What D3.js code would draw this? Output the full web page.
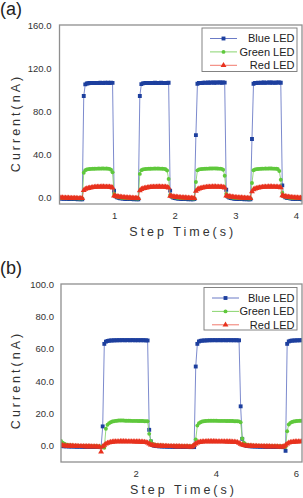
<!DOCTYPE html>
<html>
<head>
<meta charset="utf-8">
<script src="https://cdn.jsdelivr.net/npm/d3@7"></script>
<style>
  html, body { margin: 0; padding: 0; background: #fff; }
  svg { display: block; font-family: Arial, "Liberation Sans", sans-serif; }
</style>
</head>
<body>
<svg id="chart" width="303" height="498"></svg>
<script>

// ---- data ----

// panel (a): samples every 0.025 s starting at 0.1 s
const tStartA = 0.1, tStepA = 0.025;
const blueA = [
  -1.2,-1.4,-1.5,-1.6,-1.5,-1.7,-1.8,-1.7,-1.9,-1.8,-2.0,-1.9,-2.1,-2.0,-2.2,-2.1,
  94.0,104.8,
  105.6,105.8,106.0,105.9,106.1,106.0,106.2,106.1,106.0,106.3,106.2,106.1,106.4,106.2,106.3,106.1,106.4,106.2,
  5.8,0.6,
  -0.3,-0.8,-1.1,-1.3,-1.5,-1.6,-1.8,-1.7,-1.9,-2.0,-1.9,-2.1,-2.0,-2.2,-2.1,
  94.0,105.0,
  105.7,105.9,106.0,106.1,105.9,106.2,106.0,106.1,106.3,106.0,106.2,106.1,106.3,106.2,106.0,106.2,106.1,106.3,
  6.0,0.4,
  -0.4,-0.9,-1.2,-1.4,-1.5,-1.7,-1.8,-1.7,-1.9,-2.0,-2.1,-1.9,-2.1,-2.2,-2.0,
  57.6,105.4,
  106.0,106.2,106.1,106.3,106.4,106.2,106.5,106.3,106.4,106.6,106.3,106.5,106.4,106.6,106.5,106.3,106.6,106.4,
  6.8,0.5,
  -0.4,-0.9,-1.2,-1.4,-1.6,-1.7,-1.8,-1.9,-1.8,-2.0,-2.1,-2.0,-2.2,-2.1,-2.2,
  54.0,105.3,
  106.0,106.1,106.3,106.2,106.4,106.3,106.5,106.2,106.4,106.6,106.3,106.5,106.4,106.2,106.5,106.4,106.6,106.3,
  10.8,1.0,
  -0.2,-0.7,-1.0,-1.3,-1.4,-1.6,-1.7,-1.8,-1.9,-1.8,-2.0,-2.1
];
const greenA = [
  -0.6,-0.8,-0.9,-1.0,-0.9,-1.1,-1.0,-1.2,-1.1,-1.2,-1.3,-1.2,-1.3,-1.4,-1.3,-1.4,
  22.5,25.0,
  25.6,25.9,26.1,26.2,26.3,26.3,26.4,26.4,26.5,26.4,26.5,26.5,26.4,26.5,26.3,26.2,25.4,23.0,
  3.0,0.8,
  0.2,-0.2,-0.5,-0.7,-0.8,-0.9,-1.0,-1.1,-1.1,-1.2,-1.2,-1.3,-1.3,-1.4,-1.4,
  21.5,25.0,
  25.6,25.9,26.0,26.2,26.3,26.3,26.4,26.4,26.5,26.4,26.5,26.4,26.4,26.3,26.2,25.8,24.6,16.7,
  2.0,0.5,
  0.0,-0.3,-0.5,-0.7,-0.8,-0.9,-1.0,-1.1,-1.1,-1.2,-1.2,-1.3,-1.3,-1.4,-1.4,
  14.0,24.8,
  25.6,25.9,26.1,26.2,26.3,26.4,26.4,26.5,26.5,26.5,26.6,26.5,26.5,26.4,26.4,26.2,25.4,19.8,
  3.0,0.6,
  0.1,-0.3,-0.5,-0.7,-0.8,-0.9,-1.0,-1.1,-1.1,-1.2,-1.2,-1.3,-1.3,-1.4,-1.4,
  13.0,24.9,
  25.6,25.9,26.1,26.2,26.3,26.4,26.4,26.5,26.4,26.5,26.5,26.5,26.4,26.4,26.3,26.0,24.2,16.0,
  4.0,0.8,
  0.2,-0.2,-0.5,-0.7,-0.8,-0.9,-1.0,-1.1,-1.1,-1.2,-1.2,-1.3
];
const redA = [
  -0.5,-0.6,-0.7,-0.8,-0.8,-0.9,-0.9,-1.0,-1.0,-1.1,-1.1,-1.1,-1.2,-1.2,-1.2,-1.3,
  6.2,7.3,
  7.8,8.2,8.5,8.8,9.0,9.2,9.3,9.4,9.5,9.5,9.6,9.6,9.5,9.5,9.4,9.3,9.1,8.6,
  1.2,0.8,
  0.5,0.3,0.1,-0.1,-0.3,-0.4,-0.5,-0.6,-0.7,-0.8,-0.9,-1.0,-1.0,-1.1,-1.2,
  6.0,7.2,
  7.8,8.2,8.5,8.8,9.0,9.2,9.3,9.4,9.5,9.5,9.6,9.6,9.5,9.5,9.4,9.3,9.1,8.5,
  1.0,0.7,
  0.4,0.2,0.0,-0.2,-0.3,-0.4,-0.5,-0.6,-0.7,-0.8,-0.9,-1.0,-1.0,-1.1,-1.2,
  5.5,7.0,
  7.7,8.1,8.5,8.8,9.0,9.2,9.3,9.4,9.5,9.6,9.6,9.6,9.5,9.5,9.4,9.3,9.1,8.6,
  1.2,0.8,
  0.5,0.3,0.1,-0.1,-0.3,-0.4,-0.5,-0.6,-0.7,-0.8,-0.9,-1.0,-1.0,-1.1,-1.2,
  5.0,7.0,
  7.7,8.1,8.5,8.8,9.0,9.2,9.3,9.4,9.5,9.6,9.6,9.6,9.5,9.5,9.4,9.3,9.1,8.7,
  1.4,0.9,
  0.5,0.3,0.1,-0.1,-0.3,-0.4,-0.5,-0.6,-0.7,-0.8,-0.9,-1.0
];

// panel (b): samples every 0.04 s starting at 0.14 s
const tStartB = 0.14, tStepB = 0.04;
const blueB = [
  -0.2,-0.2,-0.3,-0.3,-0.3,-0.4,-0.4,-0.4,-0.4,-0.5,-0.5,-0.5,-0.5,-0.5,-0.6,-0.6,-0.6,-0.6,-0.6,-0.7,-0.7,-0.7,-0.7,-0.7,-0.8,-0.8,
  12.0,63.0,64.4,
  64.8,65.0,65.1,65.1,65.2,65.2,65.2,65.3,65.2,65.3,65.3,65.2,65.3,65.3,65.2,65.3,65.3,65.2,65.3,65.2,65.3,65.2,65.3,65.2,65.2,65.1,
  9.9,2.7,
  0.5,0.1,-0.1,-0.2,-0.3,-0.3,-0.4,-0.4,-0.4,-0.5,-0.5,-0.5,-0.5,-0.6,-0.6,-0.6,-0.6,-0.6,-0.7,-0.7,-0.7,-0.7,-0.7,-0.8,-0.8,-0.8,-0.8,
  49.0,63.0,64.5,
  64.9,65.0,65.1,65.1,65.2,65.2,65.3,65.2,65.3,65.3,65.2,65.3,65.3,65.2,65.3,65.3,65.2,65.3,65.3,65.2,65.3,65.2,65.3,65.2,65.2,
  24.4,4.3,
  0.8,0.2,-0.1,-0.2,-0.3,-0.3,-0.4,-0.4,-0.4,-0.5,-0.5,-0.5,-0.5,-0.6,-0.6,-0.6,-0.6,-0.6,-0.7,-0.7,-0.7,-0.7,-0.7,-0.8,-0.8,-0.8,
  -3.1,63.0,
  64.5,64.9,65.0,65.1,65.1,65.2,65.2,65.2,65.3
];
const greenB = [
  3.0,2.0,1.3,0.9,0.6,0.4,0.3,0.2,0.1,0.1,0.0,0.0,-0.1,-0.1,-0.1,-0.2,-0.2,-0.2,-0.2,-0.3,-0.3,-0.3,-0.3,-0.3,-0.4,-0.4,
  -0.6,-1.2,10.5,
  13.0,14.0,14.6,15.0,15.2,15.4,15.5,15.6,15.6,15.6,15.6,15.5,15.5,15.5,15.5,15.4,15.4,15.4,15.4,15.3,15.3,15.3,15.3,15.2,15.2,15.2,
  7.4,3.0,
  1.3,0.8,0.5,0.4,0.3,0.2,0.2,0.1,0.1,0.0,0.0,0.0,-0.1,-0.1,-0.1,-0.1,-0.2,-0.2,-0.2,-0.2,-0.2,-0.3,-0.3,-0.3,-0.3,-0.3,0.5,
  4.0,12.5,14.0,
  14.6,15.0,15.2,15.3,15.4,15.5,15.5,15.5,15.5,15.5,15.5,15.4,15.4,15.4,15.4,15.4,15.3,15.3,15.3,15.3,15.3,15.2,15.2,15.2,15.1,
  14.6,4.5,
  2.0,1.0,0.6,0.4,0.3,0.2,0.1,0.1,0.0,0.0,0.0,-0.1,-0.1,-0.1,-0.1,-0.2,-0.2,-0.2,-0.2,-0.2,-0.3,-0.3,-0.3,-0.3,-0.3,-0.4,
  -0.8,9.0,
  13.2,14.2,14.7,15.0,15.2,15.3,15.4,15.5,15.5
];
const redB = [
  0.3,0.2,0.1,0.0,0.0,-0.1,-0.1,-0.1,-0.2,-0.2,-0.2,-0.3,-0.3,-0.3,-0.3,-0.4,-0.4,-0.4,-0.4,-0.5,-0.5,-0.5,-0.5,-0.6,-0.6,
  -3.7,
  -0.5,0.4,1.2,
  1.7,2.0,2.2,2.4,2.5,2.6,2.6,2.6,2.7,2.7,2.7,2.7,2.6,2.6,2.6,2.6,2.6,2.5,2.5,2.5,2.5,2.4,2.4,2.3,2.1,1.8,
  1.2,0.7,
  0.4,0.2,0.1,0.0,0.0,-0.1,-0.1,-0.2,-0.2,-0.2,-0.3,-0.3,-0.3,-0.3,-0.4,-0.4,-0.4,-0.4,-0.5,-0.5,-0.5,-0.5,-0.5,-0.6,-0.6,-0.4,0.5,
  1.3,1.8,2.2,
  2.4,2.5,2.6,2.6,2.7,2.7,2.7,2.7,2.7,2.7,2.6,2.6,2.6,2.6,2.6,2.6,2.5,2.5,2.5,2.5,2.4,2.4,2.3,2.1,1.7,
  1.1,0.6,
  0.3,0.1,0.0,0.0,-0.1,-0.1,-0.2,-0.2,-0.2,-0.3,-0.3,-0.3,-0.3,-0.4,-0.4,-0.4,-0.4,-0.5,-0.5,-0.5,-0.5,-0.5,-0.6,-0.6,-0.6,-0.4,
  0.4,1.2,
  1.8,2.1,2.3,2.4,2.5,2.5,2.6,2.6,2.6
];

const seriesNames = ["Blue LED", "Green LED", "Red LED"];
const xTicksA = [1, 2, 3, 4];
const yTicksA = [0, 40, 80, 120, 160];
const xTicksB = [2, 4, 6];
const yTicksB = [0, 20, 40, 60, 80, 100];

const xTitle = "Step Time(s)";
const yTitle = "Current(nA)";

// ---- styles ----

const styles = [
  { marker: "#1d3f9e", line: "#5a6cc0", symbol: d3.symbolSquare, size: 15 },
  { marker: "#5fc83c", line: "#7ccf5e", symbol: d3.symbolCircle, size: 12 },
  { marker: "#e8321e", line: "#ef6b5c", symbol: d3.symbolTriangle, size: 15 }
];

console.log("lengths", blueA.length, greenA.length, redA.length, blueB.length, greenB.length, redB.length);

let svg = d3.select("#chart");

function toPoints(values, t0, dt) {
    return values.map((v, i) => ({ t: t0 + i * dt, v: v }));
}

function drawPanel(cfg) {

    let x = d3.scaleLinear().domain(cfg.xDomain).range([cfg.left, cfg.right]);
    let y = d3.scaleLinear().domain(cfg.yDomain).range([cfg.bottom, cfg.top]);

    let g = svg.append("g");

    // panel letter
    g.append("text")
        .attr("x", 0)
        .attr("y", cfg.labelY)
        .attr("font-size", 18)
        .attr("fill", "#222")
        .text(cfg.label);

    // clip for the marks
    g.append("clipPath")
        .attr("id", cfg.id + "-clip")
        .append("rect")
        .attr("x", cfg.left)
        .attr("y", cfg.top)
        .attr("width", cfg.right - cfg.left)
        .attr("height", cfg.bottom - cfg.top);

    // axes, labels only
    let yAxis = g.append("g")
        .attr("transform", `translate(${cfg.left},0)`)
        .call(d3.axisLeft(y).tickValues(cfg.yTicks).tickSize(0).tickPadding(cfg.yPad).tickFormat(d3.format(".1f")));

    let xAxis = g.append("g")
        .attr("transform", `translate(0,${cfg.bottom})`)
        .call(d3.axisBottom(x).tickValues(cfg.xTicks).tickSize(0).tickPadding(8).tickFormat(d3.format("d")));

    [xAxis, yAxis].forEach(a => {
        a.select(".domain").remove();
        a.selectAll("text")
            .attr("font-family", "Arial, 'Liberation Sans', sans-serif")
            .attr("font-size", 9.5)
            .attr("fill", "#333");
    });

    // series
    let marks = g.append("g").attr("clip-path", `url(#${cfg.id}-clip)`);

    cfg.series.forEach((pts, k) => {
        let st = styles[k];
        let line = d3.line().x(d => x(d.t)).y(d => y(d.v));

        marks.append("path")
            .datum(pts)
            .attr("d", line)
            .attr("fill", "none")
            .attr("stroke", st.line)
            .attr("stroke-width", 0.8);

        marks.append("g")
            .selectAll("path")
            .data(pts)
            .enter()
            .append("path")
            .attr("d", d3.symbol().type(st.symbol).size(st.size))
            .attr("transform", d => `translate(${x(d.t)},${y(d.v)})`)
            .attr("fill", st.marker);
    });

    // frame
    g.append("rect")
        .attr("x", cfg.left)
        .attr("y", cfg.top)
        .attr("width", cfg.right - cfg.left)
        .attr("height", cfg.bottom - cfg.top)
        .attr("fill", "none")
        .attr("stroke", "#8f8f8f")
        .attr("stroke-width", 1.3);

    // legend
    let lg = cfg.legend;
    let leg = g.append("g");
    leg.append("rect")
        .attr("x", lg.x)
        .attr("y", lg.y)
        .attr("width", lg.w)
        .attr("height", lg.h)
        .attr("fill", "#fff")
        .attr("stroke", "#777")
        .attr("stroke-width", 0.9);

    seriesNames.forEach((name, k) => {
        let st = styles[k];
        let cy = lg.y + 10.5 + k * 13.4;
        leg.append("line")
            .attr("x1", lg.x + 8)
            .attr("x2", lg.x + 35)
            .attr("y1", cy)
            .attr("y2", cy)
            .attr("stroke", st.line)
            .attr("stroke-width", 0.9);
        leg.append("path")
            .attr("d", d3.symbol().type(st.symbol).size(st.size))
            .attr("transform", `translate(${lg.x + 21.5},${cy})`)
            .attr("fill", st.marker);
        leg.append("text")
            .attr("x", lg.x + lg.w - 2.5)
            .attr("y", cy)
            .attr("dy", "0.36em")
            .attr("text-anchor", "end")
            .attr("font-size", 11)
            .attr("fill", "#222")
            .text(name);
    });

    // axis titles
    g.append("text")
        .attr("x", (cfg.left + cfg.right) / 2 + 2)
        .attr("y", cfg.xTitleY)
        .attr("text-anchor", "middle")
        .attr("font-size", 12.5)
        .attr("letter-spacing", 3.0)
        .attr("fill", "#333")
        .text(xTitle);

    g.append("text")
        .attr("transform", `translate(15,${cfg.yTitleY}) rotate(-90)`)
        .attr("text-anchor", "middle")
        .attr("dy", "0.36em")
        .attr("font-size", 12.5)
        .attr("letter-spacing", 3.0)
        .attr("fill", "#333")
        .text(yTitle);
}

drawPanel({
    id: "a",
    label: "(a)",
    labelY: 15,
    left: 59.5, right: 302, top: 25, bottom: 204,
    xDomain: [0.1, 4.1],
    yDomain: [-6.5, 160],
    xTicks: xTicksA,
    yTicks: yTicksA,
    yPad: 8,
    series: [blueA, greenA, redA].map(v => toPoints(v, tStartA, tStepA)),
    legend: { x: 202, y: 28, w: 95, h: 43.5 },
    xTitleY: 236,
    yTitleY: 123
});

drawPanel({
    id: "b",
    label: "(b)",
    labelY: 274,
    left: 61, right: 302, top: 284, bottom: 462,
    xDomain: [0.14, 6.15],
    yDomain: [-10, 100],
    xTicks: xTicksB,
    yTicks: yTicksB,
    yPad: 7,
    series: [blueB, greenB, redB].map(v => toPoints(v, tStartB, tStepB)),
    legend: { x: 204, y: 287.5, w: 93, h: 42.5 },
    xTitleY: 494,
    yTitleY: 380
});

</script>
</body>
</html>
